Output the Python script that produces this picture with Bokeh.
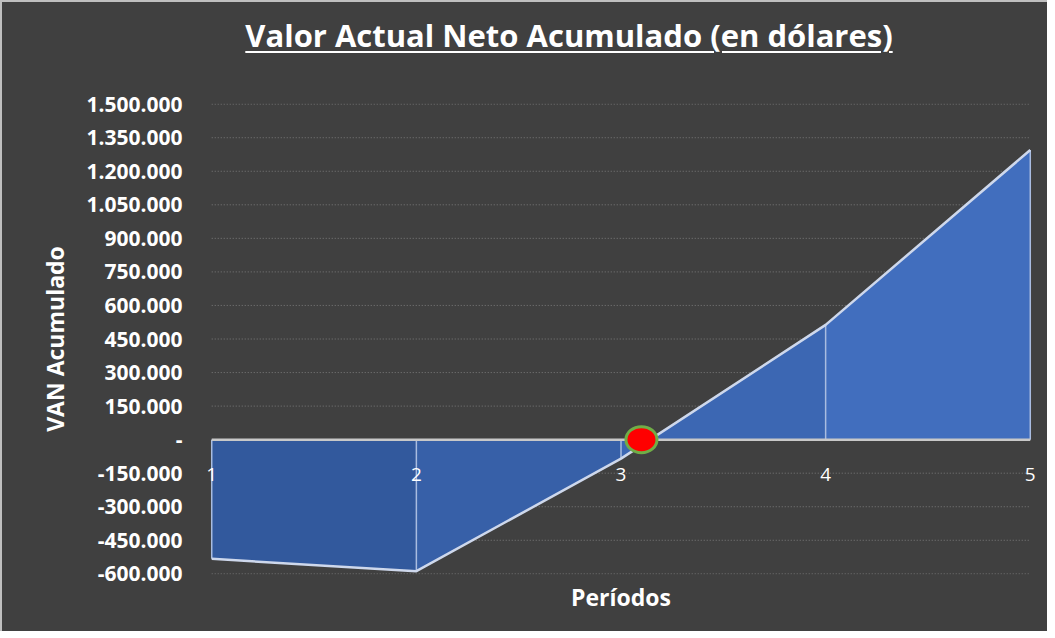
from bokeh.plotting import figure
from bokeh.models import Div, LinearAxis, FixedTicker, Range1d
from bokeh.layouts import column
from bokeh.embed import file_html
from bokeh.resources import INLINE

# ---- data ----
periods = [1, 2, 3, 4, 5]
period_labels = ["1", "2", "3", "4", "5"]
van_acumulado = [-533000, -588000, -85000, 513000, 1295000]
payback_x = [3.1]
payback_y = [0]
y_ticks = [-600000, -450000, -300000, -150000, 0, 150000, 300000, 450000,
           600000, 750000, 900000, 1050000, 1200000, 1350000, 1500000]
y_labels = ["-600.000", "-450.000", "-300.000", "-150.000", "-", "150.000",
            "300.000", "450.000", "600.000", "750.000", "900.000",
            "1.050.000", "1.200.000", "1.350.000", "1.500.000"]
title_text = "Valor Actual Neto Acumulado (en dólares)"
x_title = "Períodos"
y_title = "VAN Acumulado"

# ---- styles ----
BG = "#404040"
FONT = "Open Sans"
seg_colors = ["#32599D", "#3760A8", "#3C67B3", "#416EBE"]
W = 1045

div = Div(
    text=(f'<div style="width:{W}px;box-sizing:border-box;padding-left:89px;'
          f'padding-top:13px;text-align:center;'
          f'font-family:\'{FONT}\';font-weight:bold;font-size:31px;line-height:40px;'
          f'color:#ffffff;text-decoration:underline;text-decoration-thickness:2px;'
          f'text-underline-offset:4px;">{title_text}</div>'),
    width=W, height=82, margin=0,
    styles={"background-color": BG},
)

p = figure(width=W, height=547, output_backend="svg", toolbar_location=None,
           x_range=Range1d(0.95, 5.05), y_range=Range1d(-603000, 1503000),
           min_border_left=199, min_border_right=7, min_border_top=19,
           min_border_bottom=57, margin=0)
p.background_fill_color = BG
p.border_fill_color = BG
p.outline_line_color = None

# dotted horizontal gridlines spanning the periods
p.segment(x0=[periods[0]] * len(y_ticks), x1=[periods[-1]] * len(y_ticks),
          y0=y_ticks, y1=y_ticks, line_color="#7a7a7a", line_dash="1 2",
          line_width=1)

# area segments (gradient approximation)
for i in range(len(periods) - 1):
    p.varea(x=periods[i:i + 2], y1=[0, 0], y2=van_acumulado[i:i + 2],
            fill_color=seg_colors[i])

# drop lines
p.segment(x0=periods, y0=[0] * len(periods), x1=periods, y1=van_acumulado,
          line_color="#A9BCE0", line_width=1.5)
# top outline
p.line(periods, van_acumulado, line_color="#CED8EC", line_width=2.5)
# zero baseline
p.line([periods[0], periods[-1]], [0, 0], line_color="#C8C8C8", line_width=2.5)

# payback marker
p.ellipse(x=payback_x, y=payback_y, width=31, height=26,
          width_units="screen", height_units="screen",
          fill_color="#FF0000", line_color="#70AD47", line_width=3)

# grids
p.xgrid.visible = False
p.ygrid.visible = False

# y axis
ya = p.yaxis[0]
ya.ticker = FixedTicker(ticks=y_ticks)
ya.major_label_overrides = {t: l for t, l in zip(y_ticks, y_labels)}
ya.axis_line_color = None
ya.major_tick_line_color = None
ya.minor_tick_line_color = None
ya.major_label_text_color = "#ffffff"
ya.major_label_text_font = FONT
ya.major_label_text_font_style = "bold"
ya.major_label_text_font_size = "21px"
ya.major_label_standoff = 13
ya.axis_label = y_title
ya.axis_label_text_color = "#ffffff"
ya.axis_label_text_font = FONT
ya.axis_label_text_font_style = "bold"
ya.axis_label_text_font_size = "23px"
ya.axis_label_standoff = 12

# x axis labels at zero
xa = p.xaxis[0]
xa.fixed_location = 0
xa.ticker = FixedTicker(ticks=periods)
xa.major_label_overrides = {t: l for t, l in zip(periods, period_labels)}
xa.axis_line_color = None
xa.major_tick_line_color = None
xa.minor_tick_line_color = None
xa.major_label_text_color = "#ffffff"
xa.major_label_text_font = FONT
xa.major_label_text_font_size = "19px"
xa.major_label_standoff = 22

# x axis title
xt = LinearAxis(axis_label=x_title, ticker=FixedTicker(ticks=[]))
xt.axis_line_color = None
xt.major_tick_line_color = None
xt.minor_tick_line_color = None
xt.major_label_text_font_size = "0px"
xt.axis_label_text_color = "#ffffff"
xt.axis_label_text_font = FONT
xt.axis_label_text_font_style = "bold"
xt.axis_label_text_font_size = "23px"
xt.axis_label_standoff = 6
p.add_layout(xt, "below")

layout = column(div, p, margin=0,
                styles={"border-top": "2px solid #BFBFBF",
                        "border-left": "2px solid #BFBFBF",
                        "background-color": BG})

open("out.html", "w").write(file_html(layout, INLINE))
